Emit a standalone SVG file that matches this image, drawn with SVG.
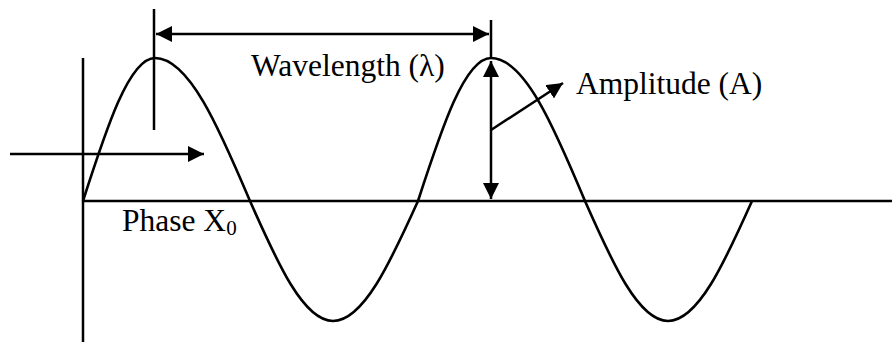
<svg xmlns="http://www.w3.org/2000/svg" width="892" height="346" viewBox="0 0 892 346">
<style>
.ln{stroke:#000;stroke-width:2.5;fill:none}
.wave{stroke:#000;stroke-width:2.6;fill:none}
.lbl{font-family:"Liberation Serif","Times New Roman",serif;font-size:31.5px;fill:#000}
</style>
<defs>
<marker id="ah" markerUnits="userSpaceOnUse" markerWidth="16" markerHeight="16" refX="16" refY="8" orient="auto-start-reverse" viewBox="0 0 16 16">
<path d="M0,0 L16,8 L0,16 z" fill="#000"/>
</marker>
</defs>
<g id="axes">
<line class="ln" x1="83" y1="58" x2="83" y2="342"/>
<line class="ln" x1="83" y1="201" x2="892" y2="201"/>
</g>
<g id="wave">
<path class="wave" d="M83,201 C106.5,127.8 129.3,58 155,58 C188.9,58 219,127.8 250,201 C277.1,262.4 303.4,321 333,321 C363.3,321 390.3,262.4 418,201 C441.8,127.8 464.9,58 491,58 C524.6,58 554.4,127.8 585,201 C612.1,262.4 638.4,321 668,321 C698,321 724.6,262.4 752,201"/>
</g>
<g id="connectors">
<line class="ln" x1="154" y1="9" x2="154" y2="130"/>
<line class="ln" x1="491" y1="20" x2="491" y2="58"/>
<line class="ln" x1="156" y1="34" x2="489" y2="34" marker-start="url(#ah)" marker-end="url(#ah)"/>
<line class="ln" x1="491" y1="61" x2="491" y2="199" marker-start="url(#ah)" marker-end="url(#ah)"/>
<line class="ln" x1="491" y1="130" x2="563" y2="83" marker-end="url(#ah)"/>
<line class="ln" x1="10" y1="154" x2="204" y2="154" marker-end="url(#ah)"/>
</g>
<g id="wavelength-label"><text class="lbl" x="251" y="76">Wavelength (λ)</text></g>
<g id="amplitude-label"><text class="lbl" x="576" y="94">Amplitude (A)</text></g>
<g id="phase-label"><text class="lbl" x="122" y="231">Phase X<tspan font-size="21" dy="4">0</tspan></text></g>
</svg>
